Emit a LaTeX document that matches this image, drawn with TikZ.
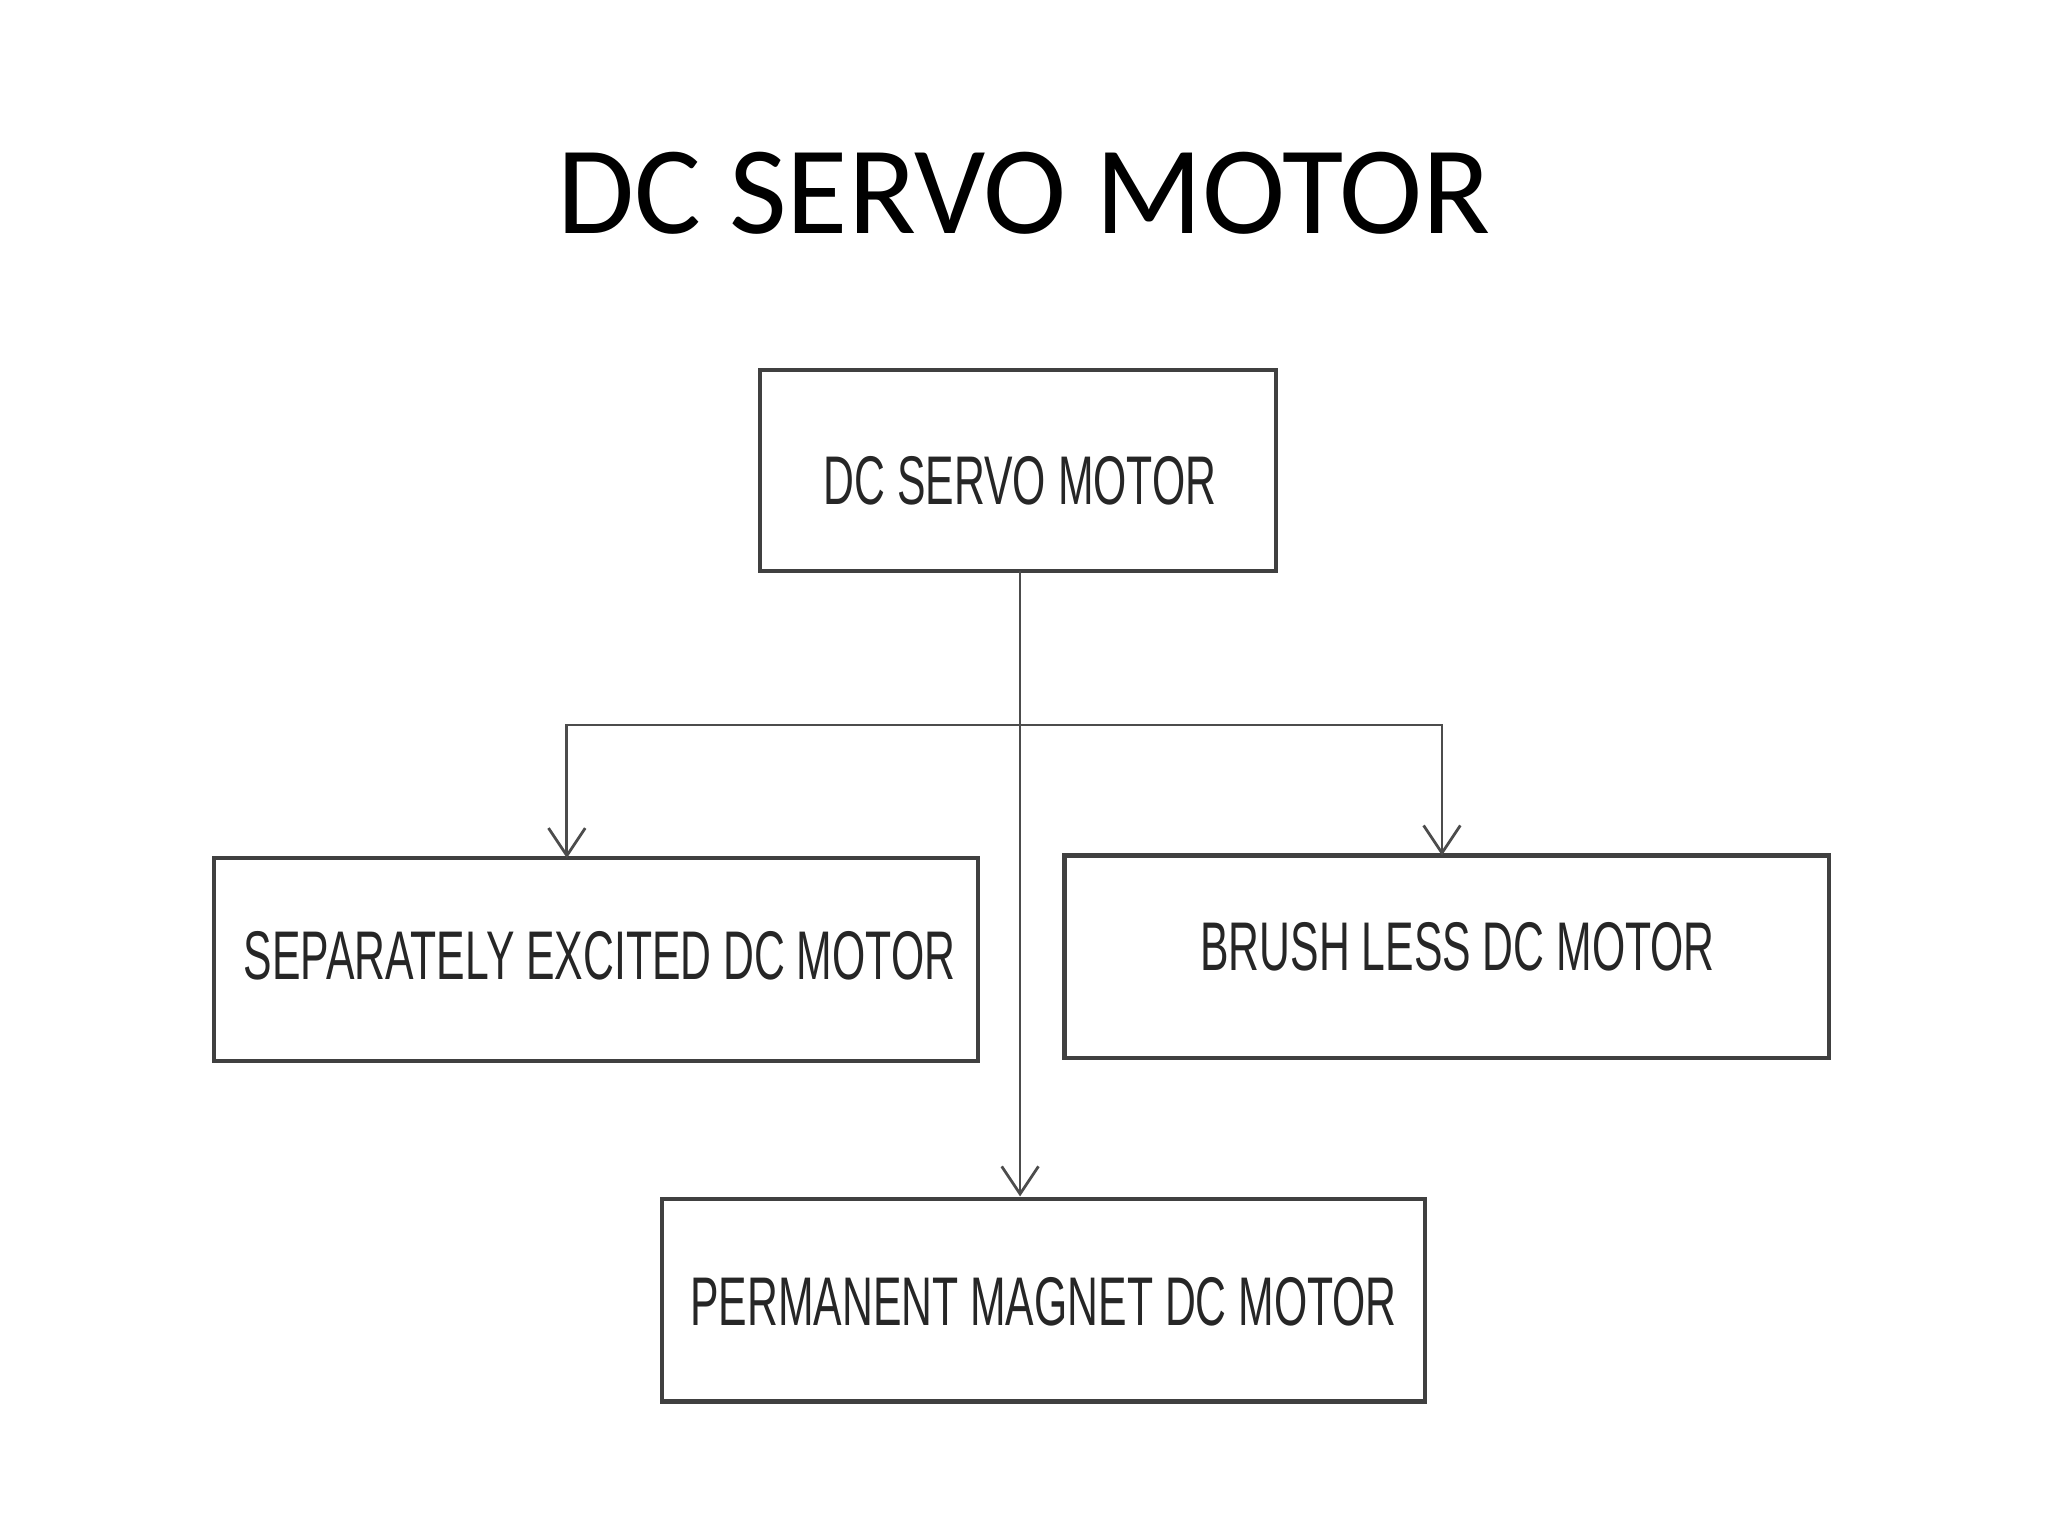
\documentclass[tikz,border=0pt]{standalone}
\usepackage{fontspec}
\setmainfont{Carlito}
\newfontfamily\boxfont{Liberation Sans}
\usetikzlibrary{arrows.meta}
\begin{document}
\begin{tikzpicture}[x=0.01cm,y=-0.01cm,
  mbox/.style={draw=black!75,line width=0.9pt,inner sep=0pt},
  btext/.style={font=\boxfont\fontsize{15}{15}\selectfont,text=black!85},
  conn/.style={draw=black!70,line width=0.6pt,-{Straight Barb[length=6pt,width=8pt]}}]
\useasboundingbox (0,0) rectangle (1568,1176);
\node[font=\fontsize{27.3}{27.3}\selectfont] (title) at (784,148) {DC SERVO MOTOR};
\draw[mbox] (582,283) rectangle (977,437);
\draw[mbox] (164,657) rectangle (749,812);
\draw[mbox] (815,655) rectangle (1400,810);
\draw[mbox] (507,918) rectangle (1091,1073);
\coordinate (topb) at (781,437);
\coordinate (split) at (781,555);
\coordinate (lt) at (434,657);
\coordinate (rt) at (1104,655);
\coordinate (bt) at (781,916);
\node[btext] (t1) at (781,368) {\scalebox{0.62}[1]{DC SERVO MOTOR}};
\node[btext] (t2) at (459,732) {\scalebox{0.62}[1]{SEPARATELY EXCITED DC MOTOR}};
\node[btext] (t3) at (1116,725) {\scalebox{0.62}[1]{BRUSH LESS DC MOTOR}};
\node[btext] (t4) at (799,997) {\scalebox{0.62}[1]{PERMANENT MAGNET DC MOTOR}};
\draw[conn] (topb) -- (bt);
\draw[conn] (split) -| (lt);
\draw[conn] (split) -| (rt);
\end{tikzpicture}
\end{document}
